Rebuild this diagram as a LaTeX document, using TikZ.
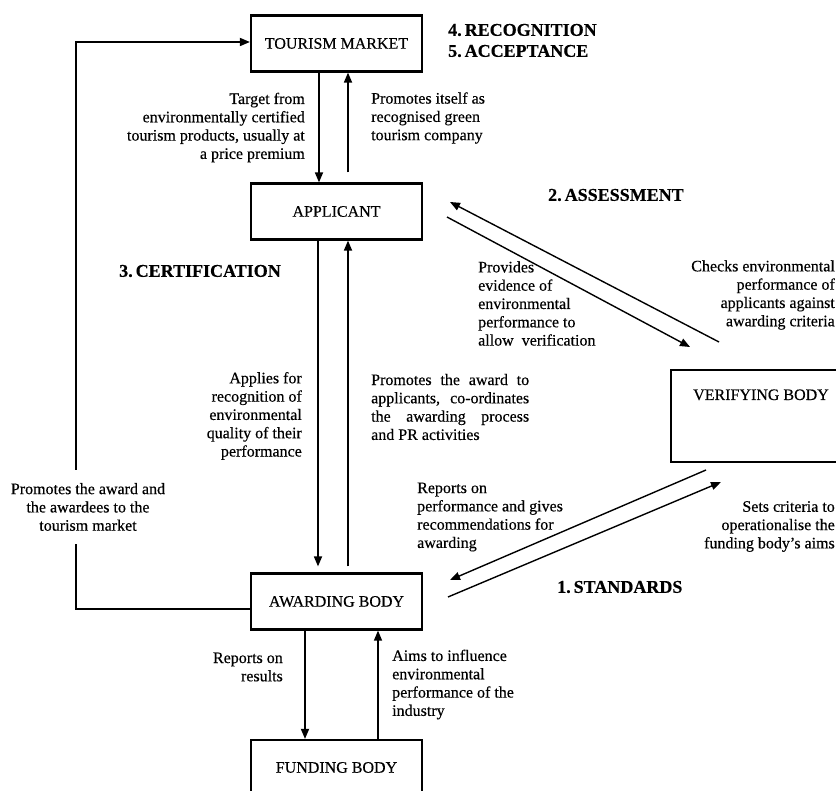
\documentclass[tikz,border=0pt]{standalone}
\usepackage{fontspec}
\setmainfont{Liberation Serif}[FakeBold=0.4]
\usetikzlibrary{arrows.meta}
\newcommand{\boxfont}{\fontsize{16}{18.3}\selectfont}
\newcommand{\notefont}{\fontsize{16}{18.3}\selectfont}
\newcommand{\stagefont}{\fontsize{18}{21}\selectfont\bfseries}
\begin{document}
\begin{tikzpicture}[x=1pt,y=-1pt,
	box/.style={draw, line width=2.2pt, minimum width=171pt, minimum height=56pt, inner sep=0pt, font=\boxfont},
	conn/.style={line width=1.7pt, -{Triangle[length=10pt,width=8pt]}},
	diag/.style={line width=1.4pt, -{Triangle[length=10pt,width=8pt]}},
	note/.style={font=\notefont, inner sep=0pt},
	stage/.style={font=\stagefont, anchor=west, inner sep=0pt, align=left}]
		\useasboundingbox (0,0) rectangle (836,791);
		% Boksene
		\node[box] (tm) at (336.5,43.5) {TOURISM MARKET};
		\node[box] (app) at (336.5,211.5) {APPLICANT};
		\node[box, minimum width=180pt, text height=19pt, text depth=51pt, inner ysep=11pt] (vb) at (761,416) {VERIFYING BODY};
		\node[box] (ab) at (336.5,601.5) {AWARDING BODY};
		\node[box, minimum height=55pt] (fb) at (336.5,767.5) {FUNDING BODY};
		% Fasene
		\node[stage] (recog) at (448,40.5) {4.\,RECOGNITION\\5.\,ACCEPTANCE};
		\node[stage] (assess) at (548,195) {2.\,ASSESSMENT};
		\node[stage] (certif) at (119,271) {3.\,CERTIFICATION};
		\node[stage] (stand) at (557,587) {1.\,STANDARDS};
		% Marked og soeker
		\draw[conn] ([xshift=-17.5pt]tm.south) -- ([xshift=-17.5pt]app.north);
		\draw[conn] ([shift={(11.5pt,10pt)}]app.north) -- ([xshift=11.5pt]tm.south);
		\node[note, anchor=east, align=right] (target) at (305,127.5) {Target from\\environmentally certified\\tourism products, usually at\\a price premium};
		\node[note, anchor=west, align=left] (itself) at (371,118) {Promotes itself as\\recognised green\\tourism company};
		% Soeker og tildelende organ
		\draw[conn] ([xshift=-18.5pt]app.south) -- ([shift={(-18.5pt,6pt)}]ab.north);
		\draw[conn] ([shift={(11.5pt,6pt)}]ab.north) -- ([xshift=11.5pt]app.south);
		\node[note, anchor=east, align=right] (applies) at (302,416) {Applies for\\recognition of\\environmental\\quality of their\\performance};
		\node[note, anchor=west, align=left] (coord) at (371,407) {\makebox[158pt][s]{Promotes the award to}\\\makebox[158pt][s]{applicants, co-ordinates}\\\makebox[158pt][s]{the awarding process}\\and PR activities};
		% Tildelende organ og finansierende organ
		\draw[conn] ([xshift=-31.5pt]ab.south) -- ([xshift=-31.5pt]fb.north);
		\draw[diag] ([xshift=41.5pt]fb.north) -- ([xshift=41.5pt]ab.south);
		\node[note, anchor=east, align=right] (results) at (283,667) {Reports on\\results};
		\node[note, anchor=west, align=left] (aims) at (392,684.5) {Aims to influence\\environmental\\performance of the\\industry};
		% Vurdering
		\coordinate (chkS) at (719,342);
		\coordinate (chkE) at (450,202);
		\coordinate (prvS) at (447,217);
		\coordinate (prvE) at (690,347);
		\draw[diag] (chkS) -- (chkE);
		\draw[diag] (prvS) -- (prvE);
		\node[note, anchor=west, align=left] (provides) at (478,303.5) {Provides\\evidence of\\environmental\\performance to\\allow~~verification};
		\node[note, anchor=east, align=right] (checks) at (835,295) {Checks environmental\\performance of\\applicants against\\awarding criteria};
		% Standarder
		\coordinate (repS) at (706,470);
		\coordinate (repE) at (450,580);
		\coordinate (setS) at (448,597);
		\coordinate (setE) at (721,482);
		\draw[diag] (repS) -- (repE);
		\draw[diag] (setS) -- (setE);
		\node[note, anchor=west, align=left] (reports) at (417,517) {Reports on\\performance and gives\\recommendations for\\awarding};
		\node[note, anchor=east, align=right] (sets) at (835,526.5) {Sets criteria to\\operationalise the\\funding body's aims};
		% Tilbake til markedet
		\coordinate (lc) at (76,609);
		\coordinate (uc) at (76,42);
		\draw[conn] ([yshift=-7.5pt]ab.west) -- (lc) -- node[note, pos=0.18, xshift=12pt, fill=white, inner ysep=13pt, inner xsep=2pt, align=center] (market) {Promotes the award and\\the awardees to the\\tourism market} (uc) -- ([yshift=1.5pt]tm.west);
	\end{tikzpicture}
\end{document}
